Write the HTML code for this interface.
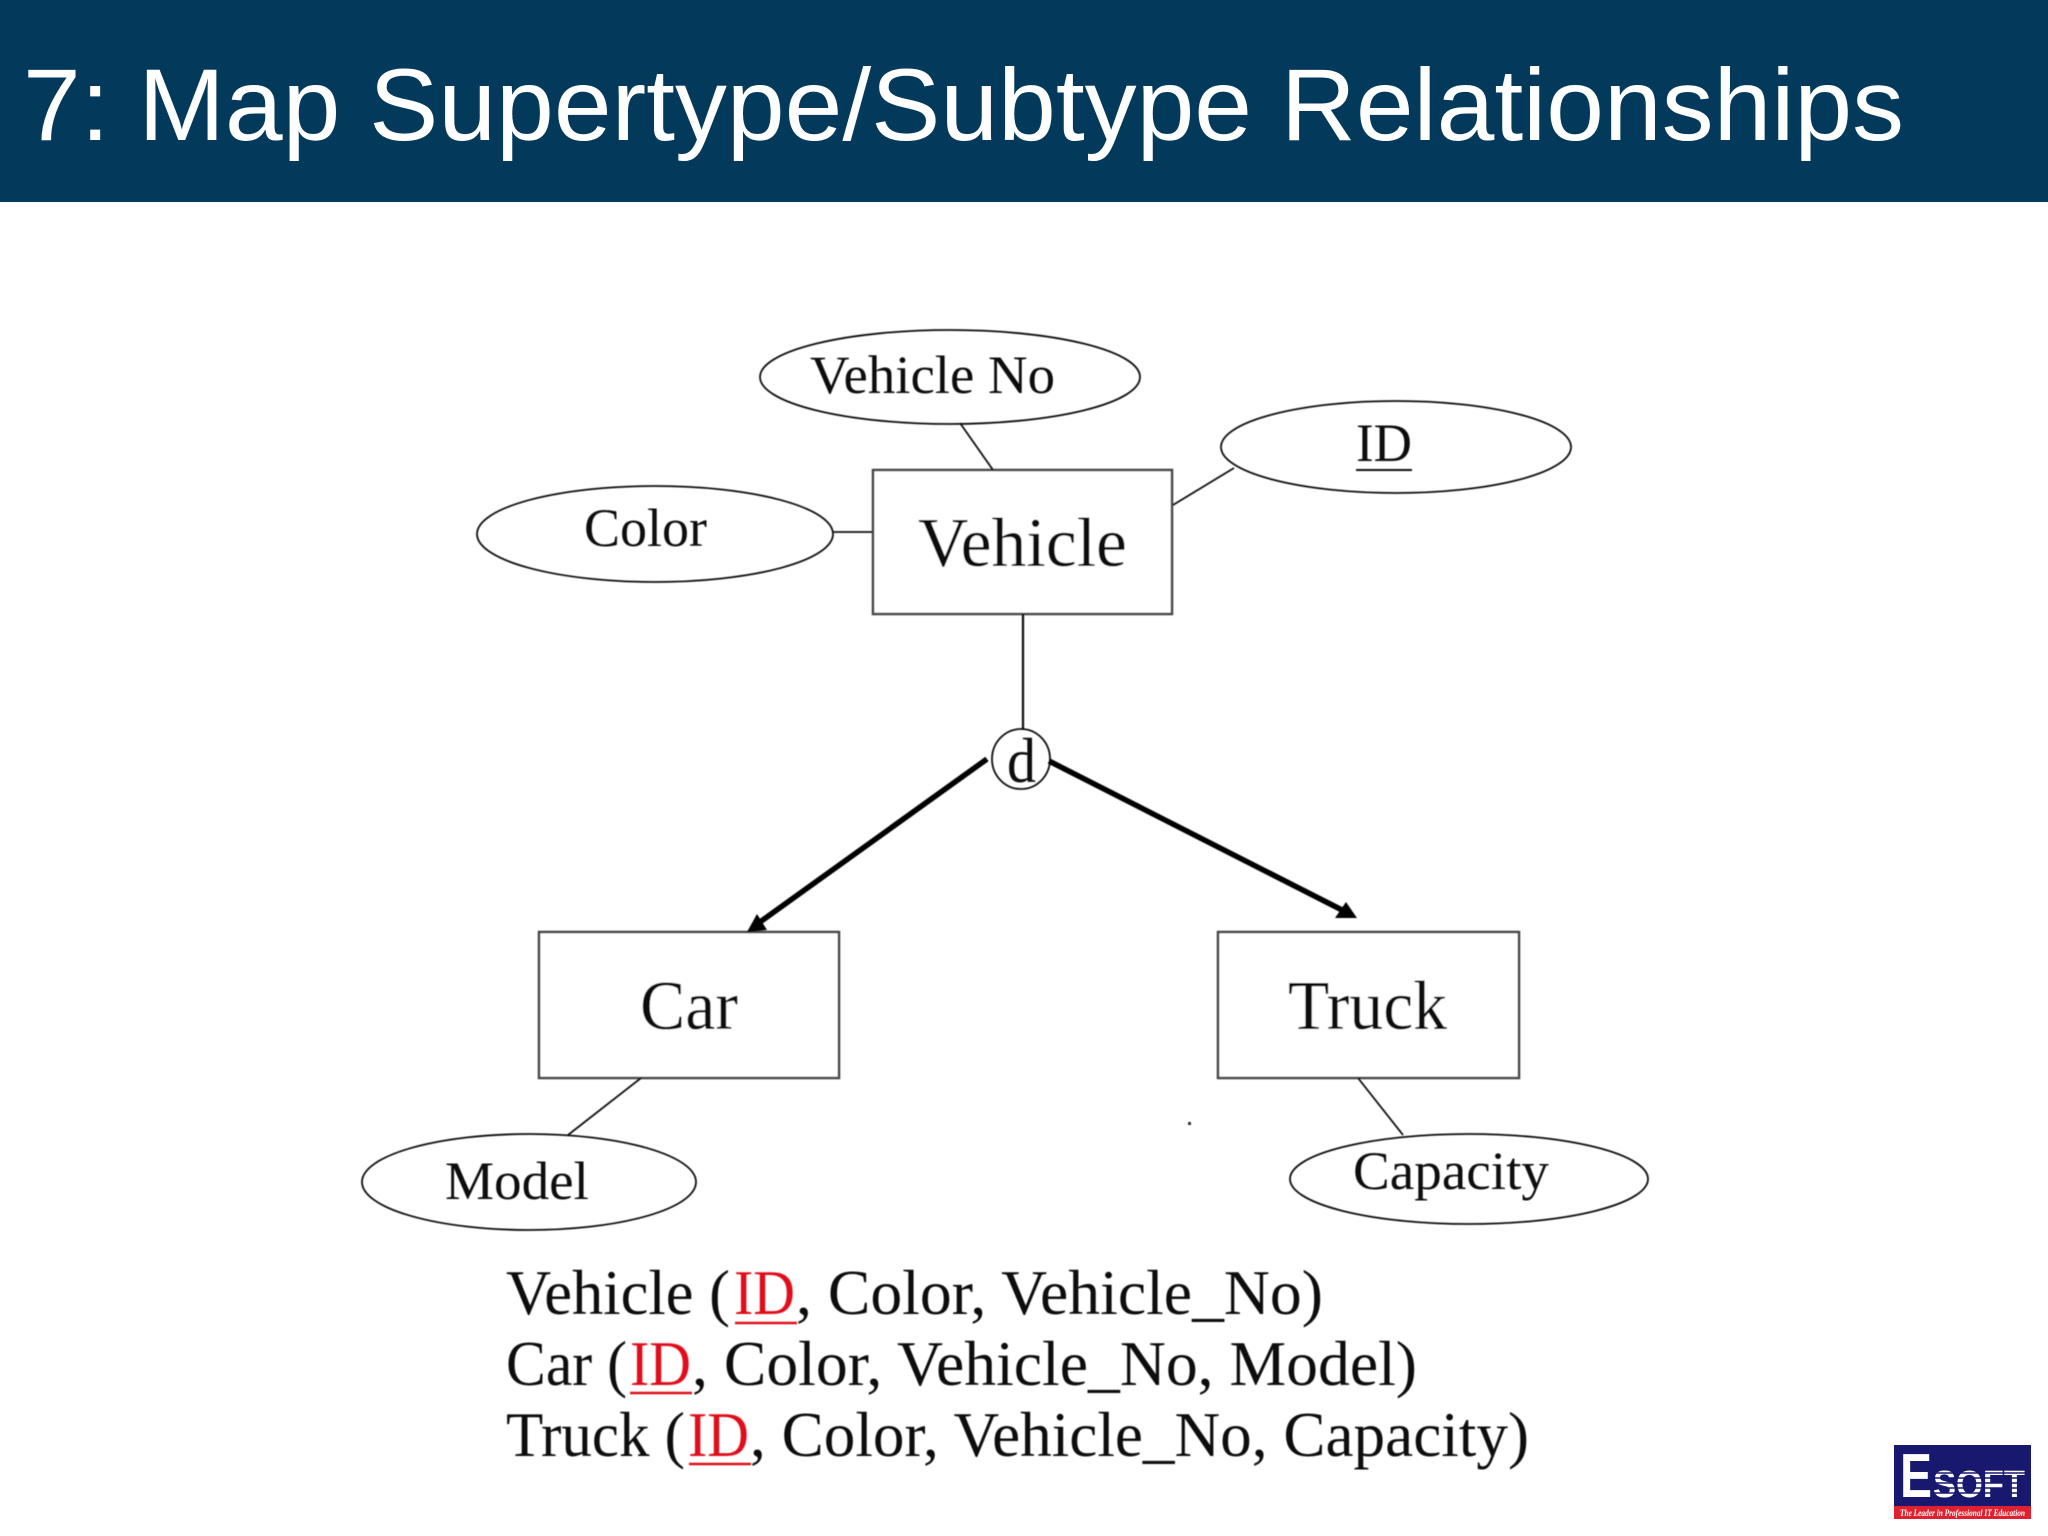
<!DOCTYPE html>
<html><head><meta charset="utf-8"><style>
html,body{margin:0;padding:0;background:#fff;width:2048px;height:1536px;overflow:hidden}
svg{display:block}
.s{font-family:"Liberation Serif",serif;fill:#0c0c0c}
</style></head><body>
<svg width="2048" height="1536" viewBox="0 0 2048 1536" xmlns="http://www.w3.org/2000/svg">
<defs><filter id="b" x="-2%" y="-2%" width="104%" height="104%"><feGaussianBlur stdDeviation="0.5"/></filter></defs>
<rect width="2048" height="1536" fill="#fff"/>
<rect width="2048" height="202" fill="#033a5b"/>
<text x="23" y="140" font-family="'Liberation Sans',sans-serif" font-size="102" fill="#fff" textLength="1881" lengthAdjust="spacingAndGlyphs">7: Map Supertype/Subtype Relationships</text>
<g filter="url(#b)">
<g fill="#fff" stroke="#444" stroke-width="2.5">
<rect x="873" y="470" width="299" height="144"/>
<rect x="539" y="932" width="300" height="146"/>
<rect x="1218" y="932" width="301" height="146"/>
</g>
<g fill="none" stroke="#0c0c0c" stroke-width="1.8">
<ellipse cx="950" cy="377" rx="190" ry="47"/>
<ellipse cx="1396" cy="447" rx="175" ry="46"/>
<ellipse cx="655" cy="534" rx="178" ry="48"/>
<ellipse cx="529" cy="1182" rx="167" ry="48"/>
<ellipse cx="1469" cy="1179" rx="179" ry="45"/>
<ellipse cx="1021" cy="759" rx="29" ry="30"/>
<line x1="960" y1="423" x2="993" y2="470"/>
<line x1="1173" y1="505" x2="1234" y2="468"/>
<line x1="833" y1="532" x2="872" y2="532"/>
<line x1="641" y1="1078" x2="568" y2="1135"/>
<line x1="1358" y1="1078" x2="1403" y2="1135"/>
<line x1="1023" y1="614" x2="1023" y2="730" stroke-width="2.2"/>
</g>
<rect x="1188" y="1122" width="3" height="3" fill="#333"/>
<g stroke="#000" stroke-width="5.5" fill="none">
<line x1="987" y1="759" x2="760" y2="922"/>
<line x1="1049" y1="761" x2="1342" y2="910"/>
</g>
<polygon points="747,932 767,930 757,914" fill="#000"/>
<polygon points="1357,918 1335,918 1346,902" fill="#000"/>
<text class="s" x="918" y="566" font-size="70" textLength="209" lengthAdjust="spacingAndGlyphs">Vehicle</text>
<text class="s" x="640" y="1029" font-size="70" textLength="98" lengthAdjust="spacingAndGlyphs">Car</text>
<text class="s" x="1288" y="1029" font-size="70" textLength="159" lengthAdjust="spacingAndGlyphs">Truck</text>
<text class="s" x="810" y="393" font-size="54" textLength="245" lengthAdjust="spacingAndGlyphs">Vehicle No</text>
<text class="s" x="584" y="546" font-size="54" textLength="123" lengthAdjust="spacingAndGlyphs">Color</text>
<text class="s" x="1356" y="461" font-size="54" textLength="56" lengthAdjust="spacingAndGlyphs">ID</text>
<line x1="1356" y1="470" x2="1412" y2="470" stroke="#0c0c0c" stroke-width="2"/>
<text class="s" x="445" y="1199" font-size="54" textLength="144" lengthAdjust="spacingAndGlyphs">Model</text>
<text class="s" x="1353" y="1189" font-size="54" textLength="196" lengthAdjust="spacingAndGlyphs">Capacity</text>
<text class="s" x="1007" y="782" font-size="64" textLength="29" lengthAdjust="spacingAndGlyphs">d</text>

<g font-size="63">
<text class="s" x="506" y="1314" textLength="224" lengthAdjust="spacingAndGlyphs">Vehicle (</text>
<text class="s" x="734" y="1314" style="fill:#e0101c" textLength="61" lengthAdjust="spacingAndGlyphs">ID</text>
<text class="s" x="796" y="1314" textLength="527" lengthAdjust="spacingAndGlyphs">, Color, Vehicle_No)</text>
<text class="s" x="506" y="1385" textLength="121" lengthAdjust="spacingAndGlyphs">Car (</text>
<text class="s" x="630" y="1385" style="fill:#e0101c" textLength="61" lengthAdjust="spacingAndGlyphs">ID</text>
<text class="s" x="692" y="1385" textLength="725" lengthAdjust="spacingAndGlyphs">, Color, Vehicle_No, Model)</text>
<text class="s" x="506" y="1456" textLength="179" lengthAdjust="spacingAndGlyphs">Truck (</text>
<text class="s" x="688" y="1456" style="fill:#e0101c" textLength="61" lengthAdjust="spacingAndGlyphs">ID</text>
<text class="s" x="750" y="1456" textLength="779" lengthAdjust="spacingAndGlyphs">, Color, Vehicle_No, Capacity)</text>
</g>
<g stroke="#e0101c" stroke-width="2.5">
<line x1="735" y1="1323" x2="797" y2="1323"/>
<line x1="630" y1="1393" x2="692" y2="1393"/>
<line x1="689" y1="1464" x2="751" y2="1464"/>
</g>
</g>

<g>
<rect x="1894" y="1445" width="137" height="74" fill="#18196e"/>
<rect x="1894" y="1506" width="137" height="13" fill="#e0202e"/>
<text x="1900" y="1497" font-family="'Liberation Sans',sans-serif" font-weight="700" font-size="62" fill="#fff" textLength="32" lengthAdjust="spacingAndGlyphs">E</text>
<text x="1933" y="1497" font-family="'Liberation Sans',sans-serif" font-weight="700" font-size="38" fill="#fff" textLength="92" lengthAdjust="spacingAndGlyphs">SOFT</text>
<g stroke="#18196e" stroke-width="1.5">
<line x1="1933" y1="1473" x2="2026" y2="1473"/>
<line x1="1933" y1="1478" x2="2026" y2="1478"/>
<line x1="1933" y1="1483" x2="2026" y2="1483"/>
<line x1="1933" y1="1488" x2="2026" y2="1488"/>
<line x1="1933" y1="1493" x2="2026" y2="1493"/>
</g>
<text x="1900" y="1516" font-family="'Liberation Serif',serif" font-style="italic" font-weight="700" font-size="9" fill="#fff" textLength="125" lengthAdjust="spacingAndGlyphs">The Leader in Professional IT Education</text>
</g>
</svg>
</body></html>
